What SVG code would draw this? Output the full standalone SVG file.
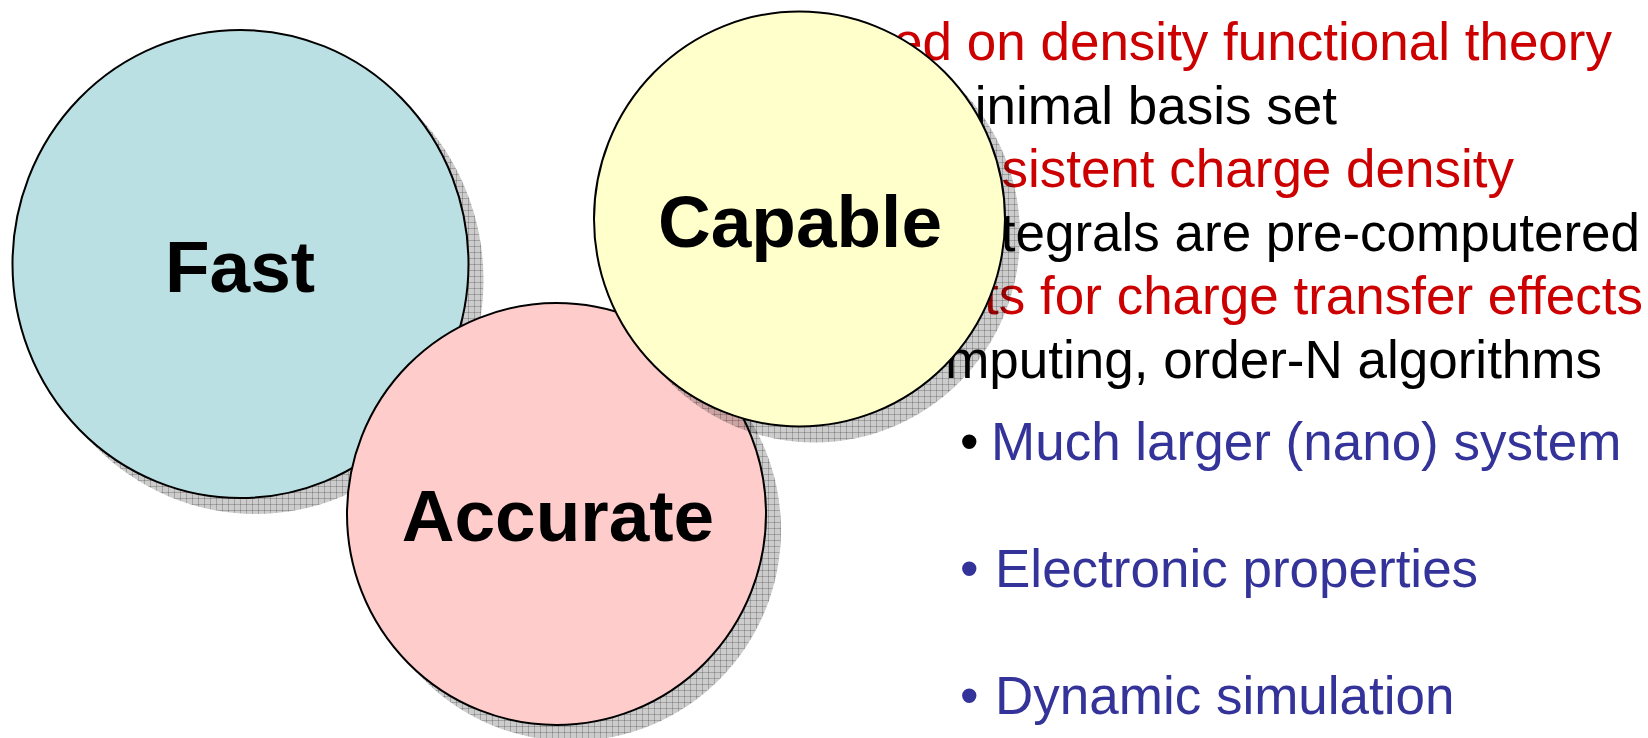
<svg xmlns="http://www.w3.org/2000/svg" width="1648" height="738" viewBox="0 0 1648 738">
  <defs>
    <!-- translucent crosshatch used for the drop shadows -->
    <pattern id="hatch" width="6" height="6" patternUnits="userSpaceOnUse">
      <rect width="6" height="6" fill="#000" fill-opacity="0.2"/>
      <path d="M0 0.5H6M0.5 0V6" stroke="#000" stroke-opacity="0.2" stroke-width="1" fill="none"/>
    </pattern>
    <style>
      .shadow { fill: url(#hatch); stroke: none; }
      .disc { stroke: #000; stroke-width: 2; }
      .label { font-family: "Liberation Sans", Arial, sans-serif; font-weight: bold; font-size: 73px; fill: #000; text-anchor: middle; }
      .line { font-family: "Liberation Sans", Arial, sans-serif; font-size: 53px; }
      .red { fill: #CC0000; }
      .blk { fill: #000; }
      .blue { fill: #333399; }
      .end { text-anchor: end; }
    </style>
  </defs>

  <rect width="1648" height="738" fill="#fff"/>

  <g id="node-fast">
    <ellipse class="shadow" cx="255.5" cy="280" rx="228" ry="234"/>
    <ellipse class="disc" cx="240.5" cy="264" rx="228" ry="234" fill="#BAE0E3"/>
    <text class="label" x="240" y="292">Fast</text>
  </g>

  <g id="node-accurate">
    <ellipse class="shadow" cx="571.5" cy="530" rx="209.5" ry="211"/>
    <ellipse class="disc" cx="556.5" cy="514" rx="209.5" ry="211" fill="#FFCCCC"/>
    <text class="label" x="558" y="541">Accurate</text>
  </g>

  <!-- feature list, partly hidden behind the Capable disc -->
  <g id="features" class="line">
    <text class="red end" x="1612" y="60">ed on density functional theory</text>
    <text class="blk end" x="1337" y="123.6">inimal basis set</text>
    <text class="red end" x="1514" y="187">sistent charge density</text>
    <text class="blk end" x="1640" y="251">tegrals are pre-computered</text>
    <text class="red end" x="1643" y="314">ts for charge transfer effects</text>
    <text class="blk end" x="1602" y="378">mputing, order-N algorithms</text>
  </g>

  <g id="benefits" class="line">
    <text class="blk" x="960" y="460">•</text>
    <text class="blue" x="991" y="460">Much larger (nano) system</text>
    <text class="blue" x="960" y="587">•</text>
    <text class="blue" x="995" y="587">Electronic properties</text>
    <text class="blue" x="960" y="714">•</text>
    <text class="blue" x="995" y="714">Dynamic simulation</text>
  </g>

  <g id="node-capable">
    <ellipse class="shadow" cx="814.5" cy="235" rx="205.5" ry="207.5"/>
    <ellipse class="disc" cx="799.5" cy="219" rx="205.5" ry="207.5" fill="#FFFFCC"/>
    <text class="label" x="800" y="247">Capable</text>
  </g>
</svg>
